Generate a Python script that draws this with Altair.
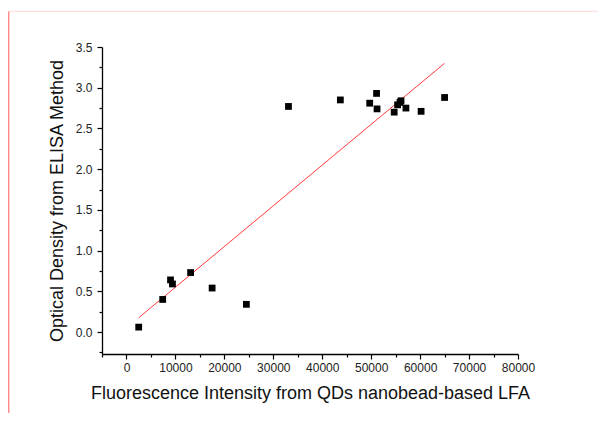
import altair as alt
import pandas as pd

# Data
lfa_intensity = [2500, 7400, 9000, 9400, 13100, 17500, 24500, 33100, 43700, 49700,
                 51100, 51200, 54700, 55400, 55900, 56100, 57100, 60200, 65000]
elisa_od = [0.06, 0.40, 0.64, 0.59, 0.73, 0.54, 0.34, 2.77, 2.85, 2.81,
            2.93, 2.74, 2.70, 2.79, 2.82, 2.84, 2.75, 2.71, 2.88]

fit_x = [2500, 65000]
fit_y = [0.175, 3.30]

x_major = [0, 10000, 20000, 30000, 40000, 50000, 60000, 70000, 80000]
x_minor = [-5000, 5000, 15000, 25000, 35000, 45000, 55000, 65000, 75000]
y_major = [0.0, 0.5, 1.0, 1.5, 2.0, 2.5, 3.0, 3.5]
y_minor = [-0.25, 0.25, 0.75, 1.25, 1.75, 2.25, 2.75, 3.25]

X_DOMAIN = [-5000, 80000]
Y_DOMAIN = [-0.27, 3.5]

pts = pd.DataFrame({"x": lfa_intensity, "y": elisa_od})
fit = pd.DataFrame({"x": fit_x, "y": fit_y})

FONT = "Liberation Sans"

xs = alt.Scale(domain=X_DOMAIN, nice=False, zero=False)
ys = alt.Scale(domain=Y_DOMAIN, nice=False, zero=False)

points = alt.Chart(pts).mark_point(
    shape="square", filled=True, color="#000000", size=46, opacity=1
).encode(
    x=alt.X("x:Q", scale=xs, axis=alt.Axis(
        orient="bottom", values=x_major, format="d", grid=False,
        title="Fluorescence Intensity from QDs nanobead-based LFA",
        titleFont=FONT, titleFontSize=18, titleFontWeight="normal", titleColor="#111111",
        titlePadding=11,
        labelFont=FONT, labelFontSize=12, labelColor="#222222", labelPadding=3,
        tickSize=5, tickColor="#000000", tickWidth=1.2,
        domainColor="#000000", domainWidth=1.3, labelFlush=False, labelOverlap=False)),
    y=alt.Y("y:Q", scale=ys, axis=alt.Axis(
        orient="left", values=y_major, format=".1f", grid=False,
        title="Optical Density from ELISA Method",
        titleFont=FONT, titleFontSize=18, titleFontWeight="normal", titleColor="#111111",
        titlePadding=9,
        labelFont=FONT, labelFontSize=12, labelColor="#222222", labelPadding=5,
        tickSize=5, tickColor="#000000", tickWidth=1.2,
        domainColor="#000000", domainWidth=1.3, labelFlush=False, labelOverlap=False)),
)

line = alt.Chart(fit).mark_line(color="#ff3b3b", strokeWidth=1).encode(
    x=alt.X("x:Q", scale=xs, axis=alt.Axis(
        orient="bottom", values=x_minor, labels=False, domain=False, grid=False,
        title=None, tickSize=3, tickColor="#000000", tickWidth=1.2)),
    y=alt.Y("y:Q", scale=ys, axis=alt.Axis(
        orient="left", values=y_minor, labels=False, domain=False, grid=False,
        title=None, tickSize=3, tickColor="#000000", tickWidth=1.2)),
)

one = alt.Data(values=[{"k": 1}])
left_border = alt.Chart(one).mark_rule(color="#ff8c8c", strokeWidth=1.5).encode(
    x=alt.value(-93.3), y=alt.value(-35.7), y2=alt.value(366))
top_border = alt.Chart(one).mark_rule(color="#ffd6d6", strokeWidth=1).encode(
    x=alt.value(-93.3), x2=alt.value(496), y=alt.value(-35.7))

chart = alt.layer(line, points, left_border, top_border).resolve_axis(
    x="independent", y="independent"
).properties(
    width=416, height=307,
    autosize=alt.AutoSizeParams(type="none"),
    padding={"left": 94, "top": 39, "right": 80, "bottom": 59},
    background="#ffffff",
).configure_view(stroke=None)

chart.save("out.html", embed_options={"renderer": "svg", "actions": False})
